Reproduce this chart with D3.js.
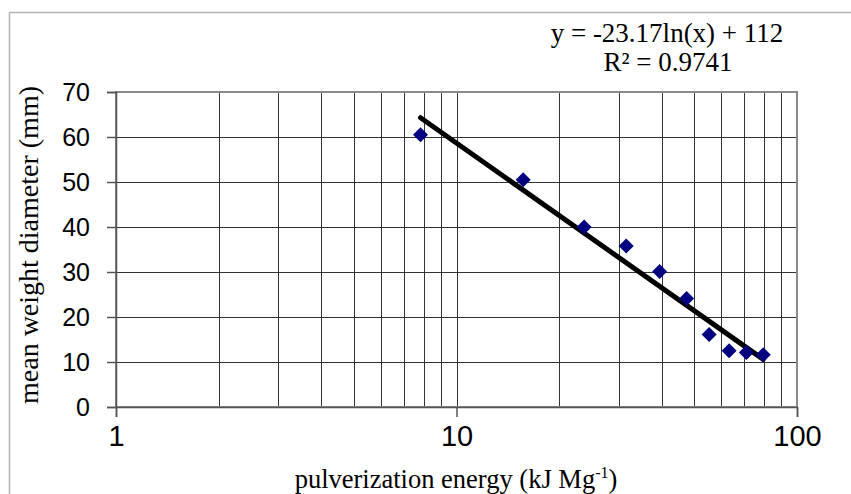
<html>
<head>
	<script src="https://d3js.org/d3.v7.min.js"></script>
	<style>
		body { margin: 0; background: #fff; }
		.serif { font-family: "Liberation Serif", "Times New Roman", serif; fill: #000; }
		.sans { font-family: "Liberation Sans", Arial, sans-serif; fill: #000; }
	</style>
</head>
<body>
<svg></svg>
<script type="text/javascript">
	// values
	var energy = [7.84, 15.7, 23.7, 31.5, 39.5, 47.4, 55.2, 63.2, 71.0, 79.6];
	var mwd = [60.5, 50.5, 40.0, 35.8, 30.1, 24.1, 16.1, 12.5, 12.1, 11.6];
	var xTicks = [1, 10, 100];
	var yTicks = [0, 10, 20, 30, 40, 50, 60, 70];
	// log trendline shown on the chart
	var fitSlope = -23.17;
	var fitIntercept = 112;
	var fitR2 = 0.9741;

	var width = 851, height = 494;
	var margin = {"left":116, "right":54, "top":92, "bottom":87};

	var svg = d3.select("svg")
		.attr("width", width)
		.attr("height", height);

	var x = d3.scaleLog()
		.domain([1, 100])
		.range([margin.left, width-margin.right]);
	var y = d3.scaleLinear()
		.domain([0, 70])
		.range([height-margin.bottom, margin.top]);

	// outer chart frame (only left and top edges are in the picture)
	svg.append("path")
		.attr("d", "M9.5," + height + "V12.5H" + width)
		.attr("fill", "none")
		.attr("stroke", "#b4b4b4")
		.attr("stroke-width", 1.5);

	// gridlines
	svg.append("g")
		.selectAll("line")
		.data(x.ticks())
		.enter().append("line")
			.attr("x1", function(d){return Math.round(x(d))+0.5;})
			.attr("x2", function(d){return Math.round(x(d))+0.5;})
			.attr("y1", y(70))
			.attr("y2", y(0))
			.attr("stroke", "#333")
			.attr("stroke-width", 1);
	svg.append("g")
		.selectAll("line")
		.data(yTicks)
		.enter().append("line")
			.attr("x1", x(1))
			.attr("x2", x(100))
			.attr("y1", function(d){return Math.round(y(d))+0.5;})
			.attr("y2", function(d){return Math.round(y(d))+0.5;})
			.attr("stroke", "#333")
			.attr("stroke-width", 1);

	// plot border
	svg.append("rect")
		.attr("x", x(1))
		.attr("y", y(70))
		.attr("width", x(100)-x(1))
		.attr("height", y(0)-y(70))
		.attr("fill", "none")
		.attr("stroke", "#8a8a8a")
		.attr("stroke-width", 2);

	// axes
	var xAxis = d3.axisBottom(x)
		.tickValues(xTicks)
		.tickSize(10)
		.tickPadding(8)
		.tickFormat(d3.format("d"));
	var gx = svg.append("g")
		.attr("transform", "translate(0," + y(0) + ")")
		.call(xAxis);
	gx.select(".domain").attr("stroke", "#555").attr("stroke-width", 1.5);
	gx.selectAll(".tick line").attr("stroke", "#555").attr("stroke-width", 1.5);
	gx.selectAll(".tick text")
		.attr("class", "sans")
		.attr("font-size", 29)
		.attr("fill", "#000");

	var yAxis = d3.axisLeft(y)
		.tickValues(yTicks)
		.tickSize(9)
		.tickPadding(17);
	var gy = svg.append("g")
		.attr("transform", "translate(" + x(1) + ",0)")
		.call(yAxis);
	gy.select(".domain").attr("stroke", "#555").attr("stroke-width", 1.5);
	gy.selectAll(".tick line").attr("stroke", "#555").attr("stroke-width", 1.5);
	gy.selectAll(".tick text")
		.attr("class", "sans")
		.attr("font-size", 25)
		.attr("fill", "#000");

	// trendline
	var lo = d3.min(energy), hi = d3.max(energy);
	var fitPts = [lo, hi].map(function(e){ return [e, fitSlope*Math.log(e) + fitIntercept]; });
	svg.append("path")
		.datum(fitPts)
		.attr("fill", "none")
		.attr("stroke", "#000")
		.attr("stroke-width", 5)
		.attr("stroke-linecap", "round")
		.attr("d", d3.line()
			.x(function(d){return x(d[0]);})
			.y(function(d){return y(d[1]);}));

	// points
	var pts = energy.map(function(e, i){ return {"e":e, "m":mwd[i]}; });
	svg.selectAll(".pt")
		.data(pts)
		.enter().append("path")
			.attr("class", "pt")
			.attr("transform", function(d){return "translate(" + x(d.e) + "," + y(d.m) + ")";})
			.attr("d", "M0,-7.5L7.5,0L0,7.5L-7.5,0Z")
			.attr("fill", "#000080");

	// equation
	svg.append("text")
		.attr("class", "serif")
		.attr("x", 667).attr("y", 42)
		.attr("text-anchor", "middle")
		.attr("font-size", 27)
		.text("y = " + fitSlope + "ln(x) + " + fitIntercept);
	svg.append("text")
		.attr("class", "serif")
		.attr("x", 668).attr("y", 71)
		.attr("text-anchor", "middle")
		.attr("font-size", 27)
		.text("R² = " + fitR2);

	// axis titles
	var xt = svg.append("text")
		.attr("class", "serif")
		.attr("x", 456).attr("y", 488)
		.attr("text-anchor", "middle")
		.attr("font-size", 26.5);
	xt.append("tspan").text("pulverization energy (kJ Mg");
	xt.append("tspan").attr("font-size", 16).attr("dy", -10).text("-1");
	xt.append("tspan").attr("dy", 10).text(")");

	svg.append("text")
		.attr("class", "serif")
		.attr("transform", "translate(38,245) rotate(-90)")
		.attr("text-anchor", "middle")
		.attr("font-size", 28)
		.text("mean weight diameter (mm)");
</script>
</body>
</html>
